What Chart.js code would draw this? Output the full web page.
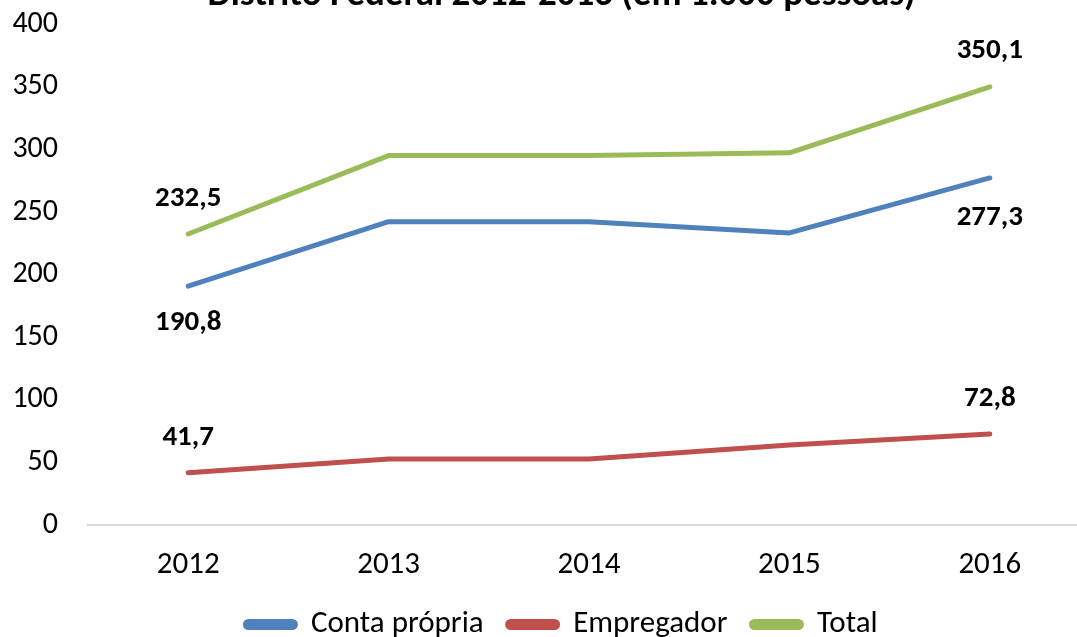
<!DOCTYPE html>
<html>
<head>
<meta charset="utf-8">
<script src="https://cdn.jsdelivr.net/npm/chart.js@4"></script>
<style>
  html, body { margin: 0; padding: 0; background: #fff; overflow: hidden; }
  #wrap { position: absolute; left: 0; top: -40px; width: 1123px; height: 690px; }
</style>
</head>
<body>
<div id="wrap"><canvas id="chart"></canvas></div>
<script>
// Dados (em 1.000 pessoas)
const years = ['2012', '2013', '2014', '2015', '2016'];
const contaPropria = [190.8, 242.4, 242.4, 233.4, 277.3];
const empregador = [41.7, 52.8, 52.8, 64.0, 72.8];
const total = [232.5, 295.2, 295.2, 297.4, 350.1];
const yTicks = [0, 50, 100, 150, 200, 250, 300, 350, 400];

const fontFamily = 'Carlito, Calibri, Lato, sans-serif';

// rótulos só no primeiro e no último ponto (deslocamento vertical em px)
const labelOffsets = [[37, 40], [-35, -35], [-35, -36]];

const endLabels = {
    id: 'endLabels',
    afterDatasetsDraw(chart) {
        const ctx = chart.ctx;
        ctx.save();
        ctx.font = 'bold 29px ' + fontFamily;
        ctx.fillStyle = '#000';
        ctx.textAlign = 'center';
        ctx.textBaseline = 'middle';
        chart.data.datasets.forEach((ds, i) => {
            const meta = chart.getDatasetMeta(i);
            [0, ds.data.length - 1].forEach((idx, k) => {
                const pt = meta.data[idx];
                const txt = ds.data[idx].toFixed(1).replace('.', ',');
                ctx.fillText(txt, pt.x, pt.y + labelOffsets[i][k]);
            });
        });
        ctx.restore();
    }
};

const ctx = document.getElementById('chart').getContext('2d');
new Chart(ctx, {
    type: 'line',
    data: {
        labels: years,
        datasets: [
            { label: 'Conta própria', data: contaPropria, borderColor: '#4f81bd', backgroundColor: '#4f81bd' },
            { label: 'Empregador', data: empregador, borderColor: '#c0504d', backgroundColor: '#c0504d' },
            { label: 'Total', data: total, borderColor: '#9bbb59', backgroundColor: '#9bbb59' }
        ]
    },
    options: {
        responsive: true,
        maintainAspectRatio: false,
        animation: false,
        elements: {
            line: { borderWidth: 5, tension: 0, borderCapStyle: 'round', borderJoinStyle: 'round' },
            point: { radius: 0, hoverRadius: 0 }
        },
        layout: { padding: 0 },
        plugins: {
            title: {
                display: true,
                text: 'Distrito Federal 2012-2016 (em 1.000 pessoas)',
                color: '#000',
                font: { family: fontFamily, size: 37, weight: 'bold' },
                padding: { top: 14, bottom: 6 }
            },
            legend: {
                position: 'bottom',
                labels: {
                    color: '#000',
                    font: { family: fontFamily, size: 31 },
                    boxWidth: 50,
                    boxHeight: 6,
                    useBorderRadius: true,
                    borderRadius: 3,
                    padding: 24
                }
            },
            tooltip: { enabled: false }
        },
        scales: {
            x: {
                offset: true,
                afterFit(scale) { scale.height = 60; },
                grid: { display: false, drawTicks: false },
                border: { display: true, color: '#d9d9d9', width: 2 },
                ticks: { color: '#000', font: { family: fontFamily, size: 31 }, padding: 22 }
            },
            y: {
                min: 0,
                max: 400,
                afterBuildTicks(scale) { scale.ticks = yTicks.map(v => ({ value: v })); },
                afterFit(scale) { scale.width = 88; },
                grid: { display: false, drawTicks: false },
                border: { display: false },
                ticks: { color: '#000', font: { family: fontFamily, size: 30 }, padding: 30 }
            },
            // eixo vazio à direita, só para reservar margem
            yRight: {
                position: 'right',
                min: 0,
                max: 1,
                afterFit(scale) { scale.width = 33; },
                grid: { display: false, drawTicks: false },
                border: { display: false },
                ticks: { display: false }
            }
        }
    },
    plugins: [endLabels]
});
</script>
</body>
</html>
